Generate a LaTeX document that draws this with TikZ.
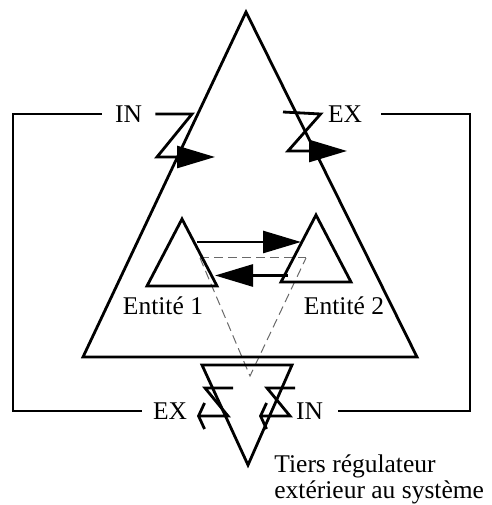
\documentclass[tikz,border=0pt]{standalone}
\usepackage{fontspec}
\setmainfont{Liberation Serif}
\usepackage{tikz}
\usetikzlibrary{arrows.meta,positioning,calc}
\definecolor{dashgray}{RGB}{105,105,105}

\begin{document}
\begin{tikzpicture}[x=10pt, y=10pt, line width=2.8pt,
        lbl/.style={font=\fontsize{25.5}{26}\selectfont, inner ysep=0pt},
        bigtip/.style={-{Triangle[length=38pt,width=22pt]}},
        opentip/.style={-{Straight Barb[length=6pt,width=26pt]}},
        guide/.style={dashgray, line width=1pt, dash pattern=on 9pt off 5pt}]
    \useasboundingbox (0,0) rectangle (49.1,50.5);
    % Dashed triangle to the third party
    \coordinate (g1) at (20.0,24.7);
    \coordinate (g2) at (30.6,24.7);
    \coordinate (g3) at (25.0,12.9);
    \draw[guide] (g1) -- (g2);
    \draw[guide] (g1) -- (g3) -- (g2);
    % System
    \draw (24.6,49.3) -- (41.7,14.8) -- (8.3,14.8) -- cycle;
    % Entities
    \foreach \cx/\cy in {18.2/21.9, 31.6/22.3} {
        \draw (\cx,\cy+6.7) -- (\cx+3.5,\cy) -- (\cx-3.5,\cy) -- cycle;
    }
    \coordinate (e1a) at (19.7,26.3);
    \coordinate (e2a) at (30.1,26.3);
    \coordinate (e2b) at (28.8,22.95);
    \coordinate (e1b) at (21.5,22.95);
    \draw[bigtip] (e1a) -- (e2a);
    \draw[bigtip] (e2b) -- (e1b);
    \node[lbl, anchor=base, inner sep=0pt] (ent1) at (16.3,19.0) {Entité 1};
    \node[lbl, anchor=base, inner sep=0pt] (ent2) at (34.4,19.0) {Entité 2};
    % Third party
    \draw (20.2,14.0) -- (29.2,14.0) -- (24.8,4.0) -- cycle;
    \node[lbl, anchor=north west, inner sep=0pt, align=left] (tiers) at (27.3,5.15)
        {Tiers régulateur\\[0pt]extérieur au système};
    % Labels on the loops
    \node[lbl, inner xsep=12pt] (inTop) at (12.85,39.1) {IN};
    \node[lbl, inner xsep=6pt] (exTop) at (34.5,39.1) {EX};
    \node[lbl, inner xsep=10pt] (exBot) at (17.0,9.4) {EX};
    \node[lbl, inner xsep=14pt] (inBot) at (30.95,9.4) {IN};
    % Loops
    \draw (inTop.west) -- (1.3,39.1) -- (1.3,9.4) -- (exBot.west);
    \draw ([xshift=12pt]exTop.east) -- (47.0,39.1) -- (47.0,9.4) -- (inBot.east);
    % Upper gates
    \draw[bigtip] (inTop.east) -- (19.2,39.1) -- (15.7,34.8) -- (21.5,34.8);
    \draw[bigtip] (28.3,39.3) -- (exTop.west) -- (28.8,35.4) -- (34.7,35.4);
    % Lower gates
    \foreach \sx in {20.5, 26.7} {
        \draw[opentip] (\sx+2.8,11.7) -- (\sx,11.7) -- (\sx+2.3,8.9) -- (\sx-0.8,8.9);
    }
\end{tikzpicture}
\end{document}
